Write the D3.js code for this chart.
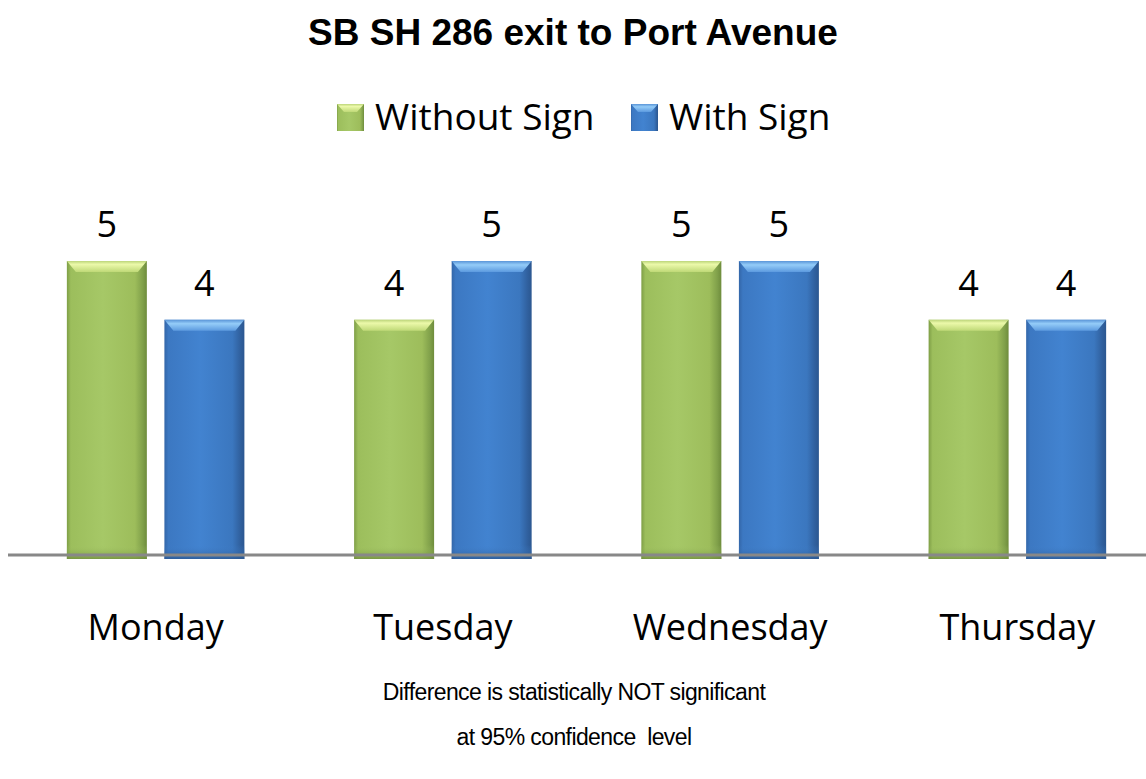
<!DOCTYPE html>
<html>
<head>
<meta charset="utf-8">
<script src="https://cdn.jsdelivr.net/npm/d3@7"></script>
<style>
  html, body { margin: 0; padding: 0; background: #fff; }
  svg { display: block; }
</style>
</head>
<body>
<svg id="chart" width="1146" height="779"></svg>
<script>
// Chart data
const categories = ["Monday", "Tuesday", "Wednesday", "Thursday"];
const seriesNames = ["Without Sign", "With Sign"];
const withoutSign = [5, 4, 5, 4];
const withSign = [4, 5, 5, 4];
const titleText = "SB SH 286 exit to Port Avenue";
const noteLines = ["Difference is statistically NOT significant", "at 95% confidence  level"];

const W = 1146, H = 779;
const svg = d3.select("#chart");

// Palette per series: body gradient stops and top-bevel gradient stops
const palette = {
  "Without Sign": {
    body: [[0, "#7E9E46"], [0.05, "#9CBE5C"], [0.45, "#A6C867"], [0.85, "#9DBD5B"], [0.95, "#80A04A"], [1, "#6E8C3C"]],
    bevel: [[0, "#BCD57A"], [0.3, "#ECF9AA"], [1, "#BFD977"]]
  },
  "With Sign": {
    body: [[0, "#3366A8"], [0.05, "#3C78C2"], [0.45, "#4283D0"], [0.85, "#3B77BF"], [0.95, "#30609E"], [1, "#2B5790"]],
    bevel: [[0, "#5A95D8"], [0.35, "#94CCF8"], [1, "#5C9ADF"]]
  }
};

const defs = svg.append("defs");
seriesNames.forEach((name, i) => {
  const p = palette[name];
  const gb = defs.append("linearGradient").attr("id", "body" + i)
    .attr("x1", 0).attr("x2", 1).attr("y1", 0).attr("y2", 0);
  p.body.forEach(([o, c]) => gb.append("stop").attr("offset", o).attr("stop-color", c));
  const gt = defs.append("linearGradient").attr("id", "bevel" + i)
    .attr("x1", 0).attr("x2", 0).attr("y1", 0).attr("y2", 1);
  p.bevel.forEach(([o, c]) => gt.append("stop").attr("offset", o).attr("stop-color", c));
  const gf = defs.append("linearGradient").attr("id", "foot" + i)
    .attr("x1", 0).attr("x2", 0).attr("y1", 0).attr("y2", 1);
  gf.append("stop").attr("offset", 0).attr("stop-color", p.body[2][1]).attr("stop-opacity", 0);
  gf.append("stop").attr("offset", 1).attr("stop-color", p.body[5][1]).attr("stop-opacity", 0.8);
});

// Scales
const x0 = d3.scaleBand().domain(categories).range([12, 1161])
  .paddingInner(0.382).paddingOuter(0.191);
const x1 = d3.scaleBand().domain(seriesNames).range([0, x0.bandwidth()])
  .paddingInner(0.18).paddingOuter(0);
const y = d3.scaleLinear().domain([0, 5]).range([555, 261]);

const rows = categories.map((c, i) => ({
  category: c,
  values: [
    { series: seriesNames[0], value: withoutSign[i], idx: 0 },
    { series: seriesNames[1], value: withSign[i], idx: 1 }
  ]
}));

// Title
svg.append("text")
  .attr("x", W / 2).attr("y", 45)
  .attr("text-anchor", "middle")
  .attr("font-family", "'Liberation Sans', Arial, sans-serif")
  .attr("font-weight", "bold")
  .attr("font-size", 37)
  .attr("fill", "#000")
  .text(titleText);

// Legend
const legendItems = [
  { name: seriesNames[0], idx: 0, x: 337 },
  { name: seriesNames[1], idx: 1, x: 631 }
];
const sw = 27;
const lg = svg.append("g").attr("class", "legend");
legendItems.forEach(it => {
  const g = lg.append("g").attr("transform", `translate(${it.x},104)`);
  g.append("rect").attr("width", sw).attr("height", sw).attr("fill", `url(#body${it.idx})`);
  g.append("path")
    .attr("d", `M0,0 H${sw} L${sw - 7},8 H7 Z`)
    .attr("fill", `url(#bevel${it.idx})`);
  g.append("text")
    .attr("x", sw + 11).attr("y", 26)
    .attr("font-family", "'Open Sans', sans-serif")
    .attr("font-size", 37)
    .attr("fill", "#000")
    .text(it.name);
});

// Bars
const groups = svg.append("g").attr("class", "bars")
  .selectAll("g").data(rows).join("g")
  .attr("transform", d => `translate(${x0(d.category)},0)`);

const bar = groups.selectAll("g.bar").data(d => d.values).join("g").attr("class", "bar");
const depth = 4;
const bevelH = 11, bevelIn = 9;

bar.append("rect")
  .attr("x", d => x1(d.series))
  .attr("y", d => y(d.value))
  .attr("width", x1.bandwidth())
  .attr("height", d => y(0) - y(d.value) + depth)
  .attr("fill", d => `url(#body${d.idx})`);

bar.append("rect")
  .attr("x", d => x1(d.series))
  .attr("y", y(0) - 10)
  .attr("width", x1.bandwidth())
  .attr("height", 10 + depth)
  .attr("fill", d => `url(#foot${d.idx})`);

bar.append("path")
  .attr("d", d => {
    const l = x1(d.series), r = l + x1.bandwidth(), t = y(d.value);
    return `M${l},${t} H${r} L${r - bevelIn},${t + bevelH} H${l + bevelIn} Z`;
  })
  .attr("fill", d => `url(#bevel${d.idx})`);

// Value labels
bar.append("text")
  .attr("x", d => x1(d.series) + x1.bandwidth() / 2)
  .attr("y", d => y(d.value) - 24)
  .attr("text-anchor", "middle")
  .attr("font-family", "'Open Sans', sans-serif")
  .attr("font-size", 36)
  .attr("fill", "#000")
  .text(d => d.value);

// Category axis line
svg.append("line")
  .attr("x1", 8).attr("x2", W)
  .attr("y1", y(0)).attr("y2", y(0))
  .attr("stroke", "#888888")
  .attr("stroke-width", 3);

// Category labels
svg.append("g").selectAll("text").data(categories).join("text")
  .attr("x", d => x0(d) + x0.bandwidth() / 2)
  .attr("y", 640)
  .attr("text-anchor", "middle")
  .attr("font-family", "'Open Sans', sans-serif")
  .attr("font-size", 36)
  .attr("fill", "#000")
  .text(d => d);

// Footnote
svg.append("g").selectAll("text").data(noteLines).join("text")
  .attr("x", W / 2 + 1)
  .attr("y", (d, i) => 700 + i * 45)
  .attr("text-anchor", "middle")
  .attr("font-family", "'Liberation Sans', Arial, sans-serif")
  .attr("font-size", 23)
  .attr("letter-spacing", -0.6)
  .attr("fill", "#000")
  .attr("xml:space", "preserve")
  .style("white-space", "pre")
  .text(d => d);
</script>
</body>
</html>
